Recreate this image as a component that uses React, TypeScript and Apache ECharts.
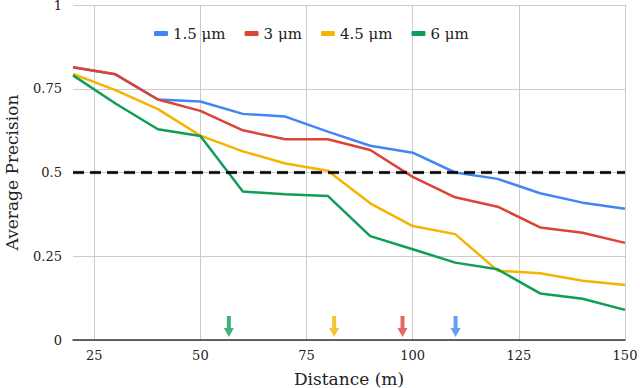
import React, { useEffect, useRef } from "react";
import * as echarts from "echarts";

const distances = [20, 30, 40, 50, 60, 70, 80, 90, 100, 110, 120, 130, 140, 150];
const seriesNames = ["1.5 μm", "3 μm", "4.5 μm", "6 μm"];
const colors = ["#4285F4", "#DB4437", "#F4B400", "#0F9D58"];
const ap15 = [0.814, 0.793, 0.718, 0.712, 0.675, 0.667, 0.622, 0.58, 0.559, 0.5, 0.481, 0.438, 0.41, 0.392];
const ap3 = [0.814, 0.793, 0.718, 0.684, 0.626, 0.599, 0.599, 0.567, 0.487, 0.426, 0.398, 0.336, 0.32, 0.29];
const ap45 = [0.794, 0.746, 0.689, 0.61, 0.563, 0.527, 0.505, 0.408, 0.34, 0.316, 0.207, 0.199, 0.177, 0.164];
const ap6 = [0.79, 0.706, 0.629, 0.609, 0.443, 0.435, 0.43, 0.31, 0.271, 0.231, 0.211, 0.139, 0.123, 0.09];
const allSeries = [ap15, ap3, ap45, ap6];
const threshold = 0.5;
const crossX = [110.1, 97.6, 81.5, 56.7];
const arrowY = 0.04;
const xTicks = [25, 50, 75, 100, 125, 150];

const FONT = "DejaVu Serif";
const ARROW = "path://M3,0 L7,0 L7,12 L10,12 L5,21 L0,12 L3,12 Z";

export default function App() {
  const ref = useRef<HTMLDivElement>(null);
  useEffect(() => {
    if (!ref.current) return;
    const chart = echarts.init(ref.current, null, { renderer: "svg" });
    const lineSeries = allSeries.map((vals, i) => ({
      name: seriesNames[i],
      type: "line",
      data: distances.map((d, j) => [d, vals[j]]),
      symbol: "none",
      lineStyle: { color: colors[i], width: 2.5 },
      itemStyle: { color: colors[i] },
      z: 3,
    }));
    const thresholdData = [[20, threshold], [150, threshold]];
    chart.setOption({
      animation: false,
      textStyle: { fontFamily: FONT },
      grid: { left: 73, right: 15, top: 5, bottom: 48, outerBoundsMode: "none", containLabel: false },
      legend: {
        data: seriesNames,
        top: 21,
        left: 149,
        icon: "roundRect",
        itemWidth: 14,
        itemHeight: 5,
        itemGap: 19,
        textStyle: { fontFamily: FONT, fontSize: 15, color: "#222" },
      },
      xAxis: {
        type: "value",
        min: 20,
        max: 150,
        name: "Distance (m)",
        nameLocation: "middle",
        nameGap: 30,
        nameTextStyle: { fontFamily: FONT, fontSize: 17, color: "#222" },
        axisLine: { show: true, lineStyle: { color: "#333", width: 1.5 } },
        axisTick: { show: false, customValues: xTicks },
        axisLabel: { customValues: xTicks, fontFamily: FONT, fontSize: 13, color: "#222", margin: 9 },
        splitLine: { show: true, lineStyle: { color: "#cccccc", width: 1 } },
      },
      yAxis: {
        type: "value",
        min: 0,
        max: 1,
        interval: 0.25,
        name: "Average Precision",
        nameLocation: "middle",
        nameGap: 53,
        nameTextStyle: { fontFamily: FONT, fontSize: 17, color: "#222" },
        axisLine: { show: false },
        axisTick: { show: false },
        axisLabel: { fontFamily: FONT, fontSize: 13, color: "#222", margin: 11 },
        splitLine: { show: true, lineStyle: { color: "#cccccc", width: 1 } },
      },
      series: [
        ...lineSeries,
        {
          name: "thresholdShadow",
          type: "line",
          data: thresholdData,
          symbol: "none",
          silent: true,
          lineStyle: { color: "rgba(0,0,0,0.18)", width: 4, type: [11, 6] },
          z: 4,
        },
        {
          name: "threshold",
          type: "line",
          data: thresholdData,
          symbol: "none",
          lineStyle: { color: "#000", width: 2.5, type: [11, 6] },
          z: 5,
        },
        {
          name: "arrows",
          type: "scatter",
          symbol: ARROW,
          symbolSize: [10, 21],
          data: crossX.map((x, i) => ({ value: [x, arrowY], itemStyle: { color: colors[i] } })),
          z: 6,
        },
      ],
    });
    return () => chart.dispose();
  }, []);
  return <div ref={ref} style={{ width: 640, height: 388, position: "absolute", left: 0, top: 0 }} />;
}
